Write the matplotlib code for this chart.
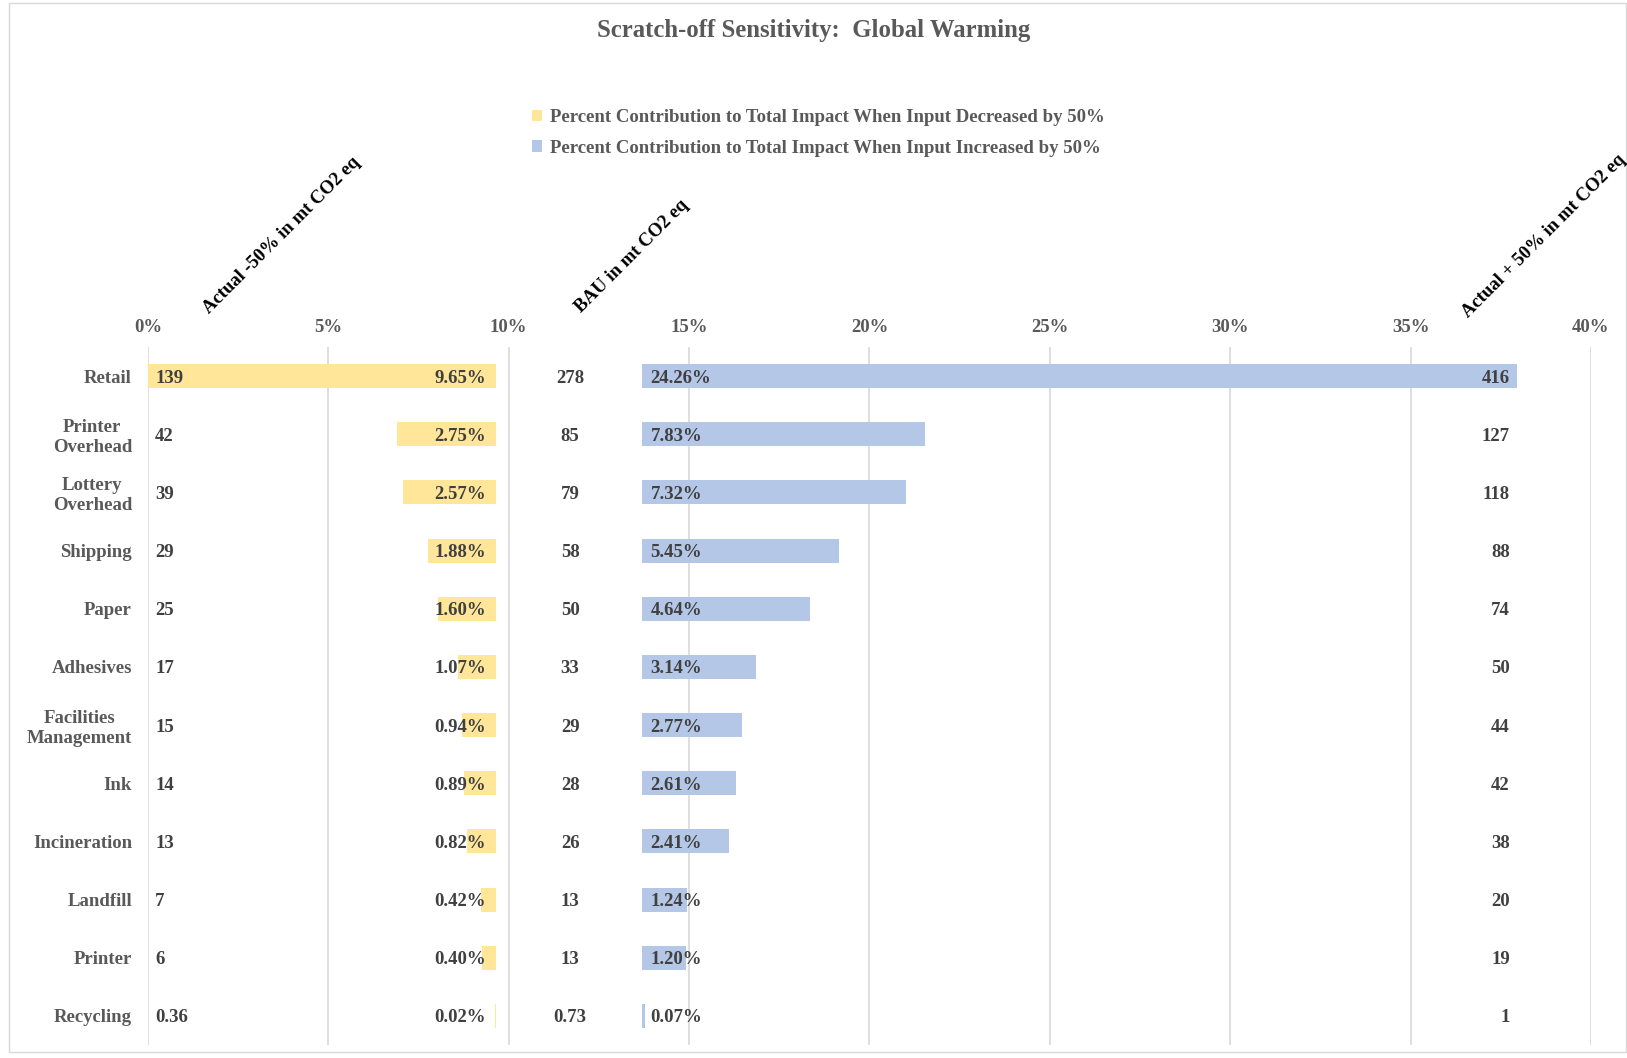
import matplotlib
matplotlib.use("Agg")
import matplotlib.pyplot as plt
from matplotlib.patches import Rectangle

categories = ["Retail", "Printer\nOverhead", "Lottery\nOverhead", "Shipping", "Paper",
              "Adhesives", "Facilities\nManagement", "Ink", "Incineration", "Landfill",
              "Printer", "Recycling"]
actual_minus = ["139", "42", "39", "29", "25", "17", "15", "14", "13", "7", "6", "0.36"]
bau = ["278", "85", "79", "58", "50", "33", "29", "28", "26", "13", "13", "0.73"]
actual_plus = ["416", "127", "118", "88", "74", "50", "44", "42", "38", "20", "19", "1"]
pct_decreased = [9.65, 2.75, 2.57, 1.88, 1.60, 1.07, 0.94, 0.89, 0.82, 0.42, 0.40, 0.02]
pct_increased = [24.26, 7.83, 7.32, 5.45, 4.64, 3.14, 2.77, 2.61, 2.41, 1.24, 1.20, 0.07]
x_ticks = [0, 5, 10, 15, 20, 25, 30, 35, 40]

YELLOW = "#FFE699"
BLUE = "#B4C7E7"
GRAY = "#595959"
DARK = "#404040"
SERIF = "Liberation Serif"

plt.rcParams["font.family"] = SERIF
plt.rcParams["font.weight"] = "bold"

fig = plt.figure(figsize=(16.27, 10.58), dpi=100)
fig.patches.append(Rectangle((9 / 1627, 6 / 1058), 1 - 10 / 1627, 1 - 9 / 1058,
                             transform=fig.transFigure, fill=False,
                             edgecolor="#D9D9D9", linewidth=1.0))

ax = fig.add_axes([148 / 1627, 1 - 1045 / 1058, (1591 - 148) / 1627, (1045 - 347) / 1058])

n = len(categories)
ys = list(range(n))
yellow_end = max(pct_decreased)
blue_start = 13.7
h = 0.41

yb = ax.barh(ys, pct_decreased, left=[yellow_end - v for v in pct_decreased],
             height=h, color=YELLOW,
             label="Percent Contribution to Total Impact When Input Decreased by 50%", zorder=2)
bb = ax.barh(ys, pct_increased, left=blue_start, height=h, color=BLUE,
             label="Percent Contribution to Total Impact When Input Increased by 50%", zorder=2)

fs = 13.5
va = "center_baseline"
for i in range(n):
    ax.text(0.2, i, actual_minus[i], ha="left", va=va, fontsize=fs, color=DARK, zorder=3)
    ax.text(yellow_end - 0.28, i, f"{pct_decreased[i]:.2f}%", ha="right", va=va,
            fontsize=fs, color=DARK, zorder=3)
    ax.text(11.7, i, bau[i], ha="center", va=va, fontsize=fs, color=DARK, zorder=3)
    ax.text(blue_start + 0.23, i, f"{pct_increased[i]:.2f}%", ha="left", va=va,
            fontsize=fs, color=DARK, zorder=3)
    ax.text(37.75, i, actual_plus[i], ha="right", va=va, fontsize=fs, color=DARK, zorder=3)

ax.set_xlim(0, 40)
ax.set_ylim(n - 0.5, -0.5)
ax.set_xticks(x_ticks)
ax.set_xticklabels([f"{t}%" for t in x_ticks])
ax.xaxis.tick_top()
ax.tick_params(axis="x", length=0, pad=8, labelsize=fs, labelcolor=GRAY)
ax.set_yticks(ys)
ax.set_yticklabels(categories, multialignment="center")
ax.tick_params(axis="y", length=0, pad=11.5, labelsize=fs, labelcolor=GRAY)
for s in ax.spines.values():
    s.set_visible(False)
ax.grid(axis="x", color="#D9D9D9", linewidth=1.2, zorder=0)
ax.set_axisbelow(True)

fig.text(0.5, 1 - 31 / 1058, "Scratch-off Sensitivity:  Global Warming", ha="center",
         va="center", fontsize=17.8, color=GRAY, fontweight="bold")

leg = fig.legend(handles=[yb, bb], loc="center", bbox_to_anchor=(818 / 1627, 1 - 133 / 1058),
                 ncol=1, frameon=False, fontsize=fs, labelcolor=GRAY,
                 handlelength=0.55, handleheight=0.55, handletextpad=0.4, labelspacing=0.72)

headers = ["Actual -50% in mt CO2 eq", "BAU in mt CO2 eq", "Actual + 50% in mt CO2 eq"]
header_pos = [(209, 314), (581, 313), (1468, 318)]
for txt, (px, py) in zip(headers, header_pos):
    fig.text(px / 1627, 1 - py / 1058, txt, rotation=45, rotation_mode="anchor",
             ha="left", va="baseline", fontsize=fs, color="black", fontweight="bold")

fig.savefig("out.png", dpi=100, facecolor="white")
